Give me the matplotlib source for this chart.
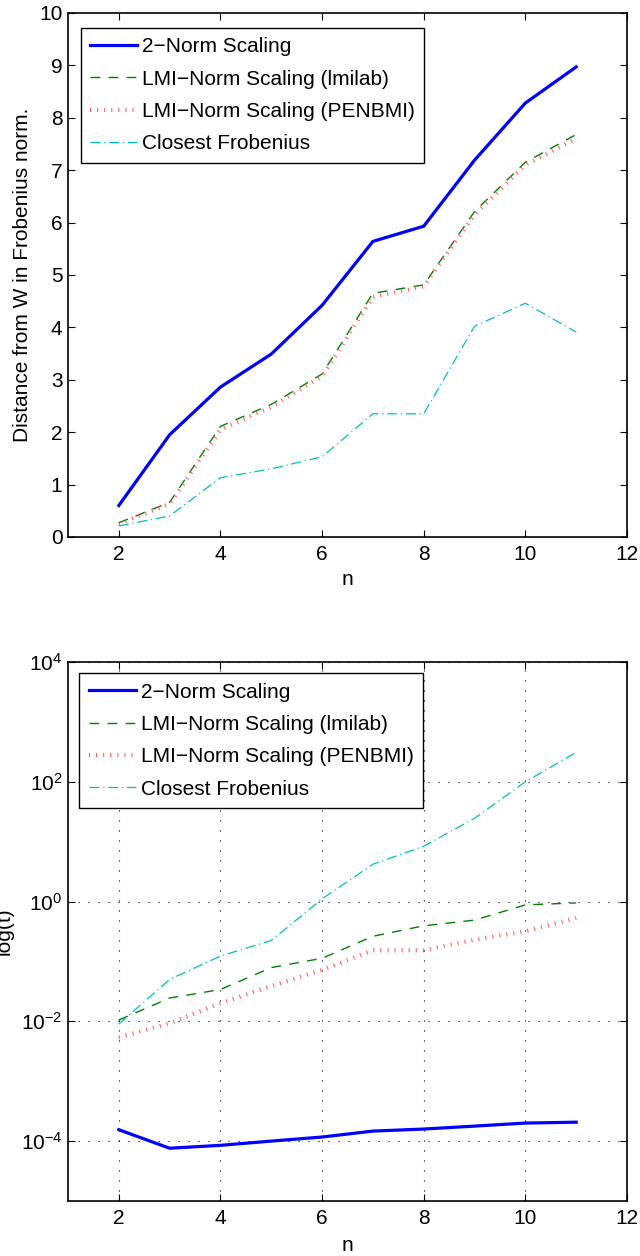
import matplotlib
matplotlib.use("Agg")
import matplotlib.pyplot as plt
import matplotlib.ticker as mticker

plt.rcParams["font.family"] = ["Liberation Sans", "DejaVu Sans"]
plt.rcParams["mathtext.fontset"] = "custom"
plt.rcParams["mathtext.rm"] = "Liberation Sans"
plt.rcParams["mathtext.it"] = "Liberation Sans:italic"
plt.rcParams["font.size"] = 15

n = [2, 3, 4, 5, 6, 7, 8, 9, 10, 11]

# distance from W in Frobenius norm
dist_2norm = [0.60, 1.95, 2.86, 3.49, 4.42, 5.64, 5.93, 7.19, 8.28, 8.97]
dist_lmilab = [0.27, 0.66, 2.11, 2.53, 3.11, 4.65, 4.81, 6.21, 7.15, 7.68]
dist_penbmi = [0.25, 0.63, 2.05, 2.48, 3.07, 4.58, 4.78, 6.15, 7.10, 7.60]
dist_frob = [0.21, 0.40, 1.13, 1.30, 1.53, 2.35, 2.35, 4.02, 4.46, 3.91]

# computation time
time_2norm = [1.55e-4, 7.6e-5, 8.5e-5, 1.0e-4, 1.17e-4, 1.47e-4, 1.59e-4, 1.78e-4, 2.0e-4, 2.07e-4]
time_lmilab = [0.0105, 0.0245, 0.034, 0.079, 0.113, 0.263, 0.394, 0.49, 0.88, 0.95]
time_penbmi = [0.0054, 0.0093, 0.020, 0.039, 0.072, 0.154, 0.154, 0.23, 0.32, 0.53]
time_frob = [0.009, 0.050, 0.123, 0.224, 1.11, 4.2, 8.4, 24.6, 100, 310]

labels = ["2\u2212Norm Scaling", "LMI\u2212Norm Scaling (lmilab)",
          "LMI\u2212Norm Scaling (PENBMI)", "Closest Frobenius"]

styles = [
    dict(color=(0, 0, 1), lw=2.3, ls="-"),
    dict(color=(0, 0.5, 0), lw=1.0, ls=(0, (7, 6))),
    dict(color=(1, 0.35, 0.35), lw=3.0, ls=(0, (0.25, 1.45))),
    dict(color=(0, 0.75, 0.75), lw=0.9, ls=(0, (8, 3, 1, 3))),
]


def style_axes(ax, n_y):
    ax.tick_params(direction="in", top=True, right=True, length=5, width=0.8,
                   labelsize=15)
    ax.tick_params(axis="x", pad=6)
    ax.tick_params(axis="y", pad=4)
    for s in ax.spines.values():
        s.set_linewidth(1.2)
    ax.set_xlim(1, 12)
    ax.set_xticks([2, 4, 6, 8, 10, 12])
    ax.set_xlabel("n", fontsize=15)
    ax.xaxis.set_label_coords(0.5, n_y)


def add_legend(ax, anchor):
    leg = ax.legend(loc="upper left", bbox_to_anchor=anchor, borderaxespad=0,
                    fontsize=15, handlelength=2.25, handletextpad=0.25,
                    labelspacing=0.64, borderpad=0.45, fancybox=False,
                    framealpha=1, edgecolor="black")
    leg.get_frame().set_linewidth(1.0)


fig = plt.figure(figsize=(6.4, 12.56), dpi=100)

ax1 = fig.add_axes([0.10625, 0.5725, 0.8734, 0.4172])
for y, lab, st in zip([dist_2norm, dist_lmilab, dist_penbmi, dist_frob], labels, styles):
    ax1.plot(n, y, label=lab, **st)
ax1.set_ylim(0, 10)
ax1.set_yticks(range(0, 11))
style_axes(ax1, -0.063)
ax1.set_ylabel("Distance from W in Frobenius norm.", fontsize=15)
ax1.yaxis.set_label_coords(-0.064, 0.5)
add_legend(ax1, (12.7 / 559, 1 - 15 / 524))

ax2 = fig.add_axes([0.10625, 0.0438, 0.8734, 0.4291])
for y, lab, st in zip([time_2norm, time_lmilab, time_penbmi, time_frob], labels, styles):
    ax2.plot(n, y, label=lab, **st)
ax2.set_yscale("log")
ax2.set_ylim(1e-5, 1e4)
ax2.yaxis.set_major_locator(mticker.FixedLocator([1e-4, 1e-2, 1e0, 1e2, 1e4]))
ax2.yaxis.set_minor_locator(mticker.NullLocator())
style_axes(ax2, -0.065)
ax2.grid(True, color="black", lw=0.8, ls=(0, (1, 8)))
ax2.set_ylabel("log(t)", fontsize=15)
ax2.yaxis.set_label_coords(-0.098, 0.5)
add_legend(ax2, (11.3 / 559, 1 - 11.3 / 539))

fig.savefig("out.png", dpi=100)
